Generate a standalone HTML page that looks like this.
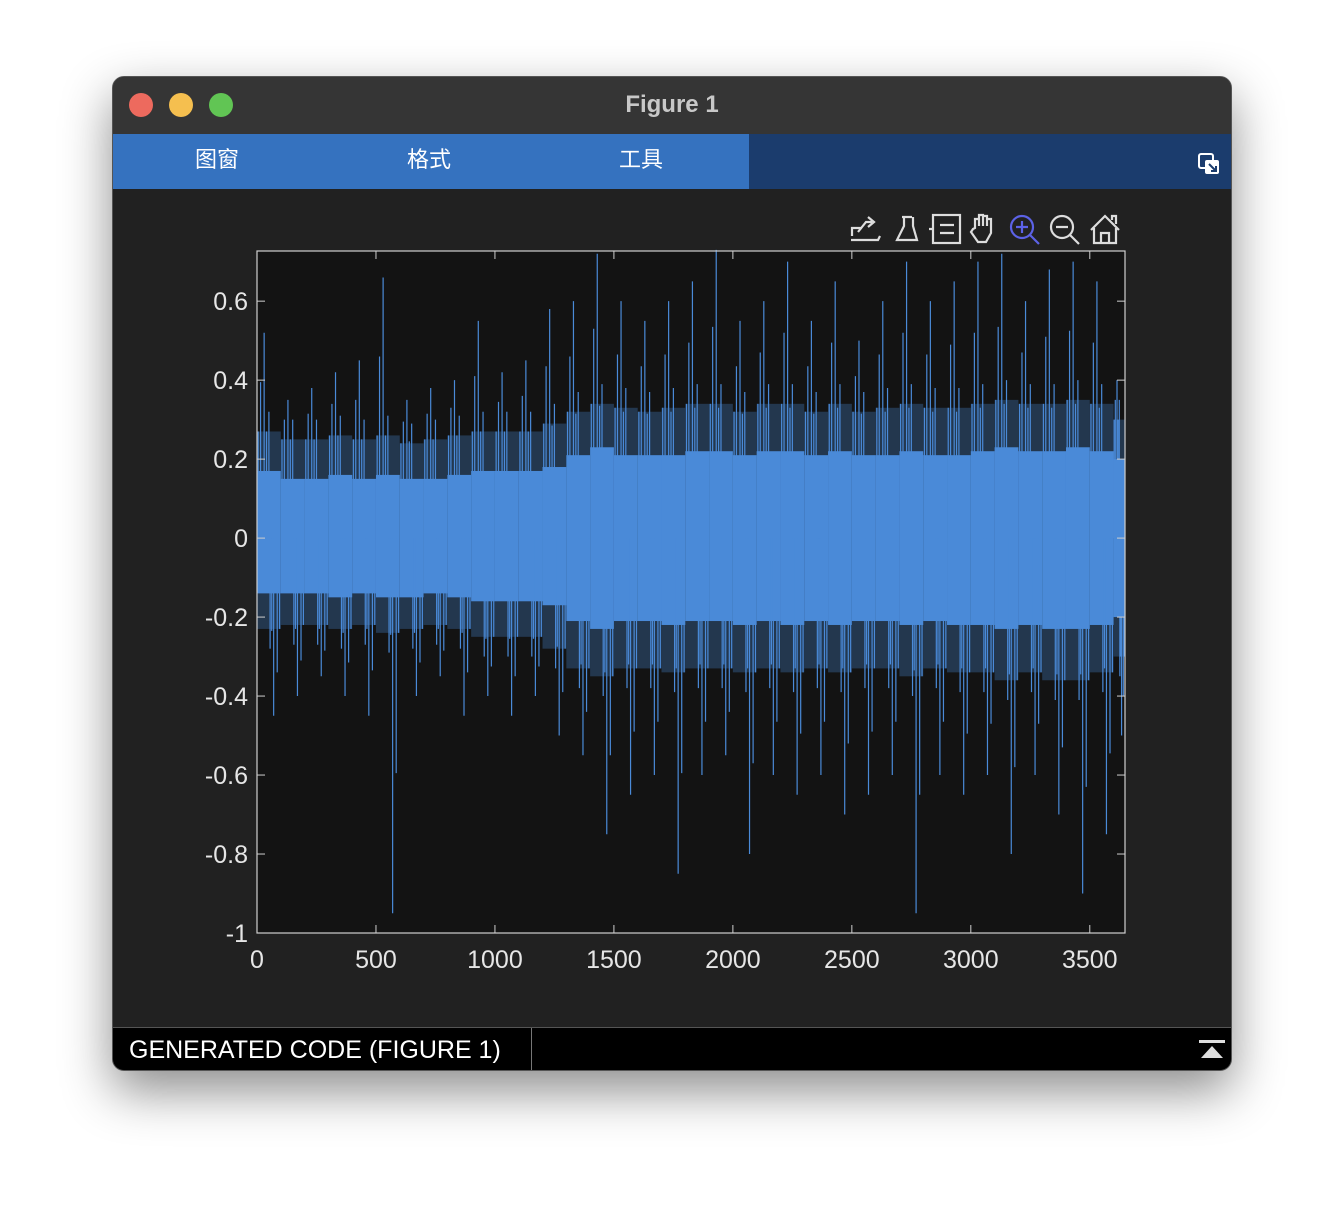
<!DOCTYPE html>
<html><head><meta charset="utf-8">
<style>
html,body{margin:0;padding:0;background:#fff;width:1344px;height:1220px;overflow:hidden;font-family:"Liberation Sans","Noto Sans CJK SC",sans-serif}
#win{position:absolute;left:112px;top:76px;width:1120px;height:995px;border-radius:12px;background:#212121;overflow:hidden;box-shadow:0 20px 50px rgba(0,0,0,0.45);border:1px solid #555;box-sizing:border-box}
#title{position:absolute;left:0;top:0;width:100%;height:57px;background:#353535;color:#c8c8c8;font-weight:bold;font-size:24px;text-align:center;line-height:55px}
.dot{position:absolute;top:16px;width:24px;height:24px;border-radius:50%}
#menu{position:absolute;left:0;top:57px;width:100%;height:55px;background:#1b3c6d}
#menuL{position:absolute;left:0;top:0;width:636px;height:55px;background:#3572bf}
.mi{position:absolute;top:0;line-height:52px;color:#fff;font-size:22px}
#status{position:absolute;left:0;top:950px;width:100%;height:45px;background:#000;border-top:1px solid #555}
#status span{position:absolute;left:16px;top:8px;color:#fff;font-size:25px}
</style></head><body>
<div id="win">
 <div id="title">Figure 1
  <div class="dot" style="left:16px;background:#ed6a5e"></div>
  <div class="dot" style="left:56px;background:#f5bf4f"></div>
  <div class="dot" style="left:96px;background:#61c554"></div>
 </div>
 <div id="menu">
  <div id="menuL">
   <div class="mi" style="left:82px">图窗</div>
   <div class="mi" style="left:294px">格式</div>
   <div class="mi" style="left:506px">工具</div>
  </div>
  <svg style="position:absolute;left:1084px;top:18px" width="24" height="24"><rect x="2" y="2" width="14" height="14" rx="2" fill="none" stroke="#fff" stroke-width="2"/><rect x="8" y="8" width="14" height="14" rx="2" fill="#fff"/><path d="M12 12 L19 19 M19 14 L19 19 L14 19" stroke="#1b3c6d" stroke-width="2" fill="none"/></svg>
 </div>
 <div id="status"><span>GENERATED CODE (FIGURE 1)</span>
  <div style="position:absolute;left:418px;top:0;width:1px;height:45px;background:#777"></div>
  <svg style="position:absolute;left:1086px;top:12px" width="26" height="20"><rect x="0" y="0" width="26" height="3" fill="#ddd"/><path d="M2 18 L13 6 L24 18 Z" fill="#ddd"/></svg>
 </div>
</div>
<svg id="chart" style="position:absolute;left:0;top:0" width="1344" height="1220">
 <g fill="none" stroke="#ddd" stroke-width="2.2">
  <g><path d="M851 240 L878 240 L880 236 M852 236 L852 228 L862 228 M858 232 L866 222 L872 222 M868 217 L874 222 L868 227"/></g>
  <g><path d="M902 217 L912 217 M904 217 L904 226 L897 240 L917 240 L913 226 L913 217"/></g>
  <g><rect x="933" y="215" width="27" height="28"/><path d="M940 225 L954 225 M940 233 L954 233 M933 229 L929 229"/></g>
  <g><path d="M975 228 L975 219 L979 219 L979 226 L979 215 L983 215 L983 226 L983 216 L987 216 L987 226 L987 219 L991 219 L991 233 L986 242 L978 242 L971 232 L973 229 Z"/></g>
  <g stroke="#5c62e6"><circle cx="1022" cy="227" r="11"/><path d="M1030 235 L1039 244 M1016 227 L1028 227 M1022 221 L1022 233"/></g>
  <g><circle cx="1062" cy="227" r="11"/><path d="M1070 235 L1079 244 M1056 227 L1068 227"/></g>
  <g><path d="M1091 230 L1105 216 L1119 230 M1094 228 L1094 243 L1116 243 L1116 228 M1101 243 L1101 233 L1109 233 L1109 243 M1112 220 L1112 216 L1116 216 L1116 224"/></g>
 </g>
 <rect x="257" y="251" width="868" height="682" fill="#131313"/>
 <g id="series"></g>
 <rect x="257" y="251" width="868" height="682" fill="none" stroke="#cfcfcf" stroke-width="1.2"/>
 <g id="ticks"></g>
</svg>
<script>
const binSize = 100;
const nSamples = 3648;
const binMax = [0.52,0.35,0.38,0.42,0.45,0.66,0.35,0.38,0.4,0.55,0.42,0.45,0.58,0.6,0.72,0.6,0.55,0.6,0.65,0.73,0.55,0.6,0.7,0.55,0.65,0.5,0.6,0.7,0.6,0.65,0.7,0.72,0.6,0.68,0.7,0.65,0.4];
const binMin = [-0.45,-0.4,-0.35,-0.4,-0.45,-0.95,-0.4,-0.35,-0.45,-0.4,-0.45,-0.4,-0.5,-0.55,-0.75,-0.65,-0.6,-0.85,-0.6,-0.55,-0.8,-0.6,-0.65,-0.6,-0.7,-0.65,-0.6,-0.95,-0.6,-0.65,-0.6,-0.8,-0.6,-0.7,-0.9,-0.75,-0.5];
const envHi = [0.27,0.25,0.25,0.26,0.25,0.26,0.24,0.25,0.26,0.27,0.27,0.27,0.29,0.32,0.34,0.33,0.32,0.33,0.34,0.34,0.32,0.34,0.34,0.32,0.34,0.32,0.33,0.34,0.33,0.33,0.34,0.35,0.34,0.34,0.35,0.34,0.3];
const envLo = [-0.23,-0.22,-0.22,-0.23,-0.22,-0.24,-0.23,-0.22,-0.23,-0.25,-0.25,-0.25,-0.28,-0.33,-0.35,-0.33,-0.33,-0.34,-0.33,-0.33,-0.34,-0.33,-0.34,-0.33,-0.34,-0.33,-0.33,-0.35,-0.33,-0.34,-0.34,-0.36,-0.34,-0.36,-0.36,-0.34,-0.3];
const coreHi = [0.17,0.15,0.15,0.16,0.15,0.16,0.15,0.15,0.16,0.17,0.17,0.17,0.18,0.21,0.23,0.21,0.21,0.21,0.22,0.22,0.21,0.22,0.22,0.21,0.22,0.21,0.21,0.22,0.21,0.21,0.22,0.23,0.22,0.22,0.23,0.22,0.2];
const coreLo = [-0.14,-0.14,-0.14,-0.15,-0.14,-0.15,-0.15,-0.14,-0.15,-0.16,-0.16,-0.16,-0.17,-0.21,-0.23,-0.21,-0.21,-0.22,-0.21,-0.21,-0.22,-0.21,-0.22,-0.21,-0.22,-0.21,-0.21,-0.22,-0.21,-0.22,-0.22,-0.23,-0.22,-0.23,-0.23,-0.22,-0.2];
const xTicks = [0,500,1000,1500,2000,2500,3000,3500];
const yTicks = [-1,-0.8,-0.6,-0.4,-0.2,0,0.2,0.4,0.6];
const yTickLabels = ["-1","-0.8","-0.6","-0.4","-0.2","0","0.2","0.4","0.6"];

const X0=257,X1=1125,Y0=251,Y1=933, xMax=nSamples, yMin=-1, yMaxV=0.727;
const xs = v => X0 + (v/xMax)*(X1-X0);
const ys = v => Y1 - (v-yMin)/(yMaxV-yMin)*(Y1-Y0);
const NS="http://www.w3.org/2000/svg";
const g=document.getElementById('series');
function mk(tag,attrs,parent){const e=document.createElementNS(NS,tag);for(const k in attrs)e.setAttribute(k,attrs[k]);parent.appendChild(e);return e;}
const C="#4a8ad8";
for(let i=0;i<binMax.length;i++){
  const a=i*binSize, b=Math.min((i+1)*binSize,xMax);
  const xa=xs(a), w=xs(b)-xa;
  const env=mk('rect',{x:xa,y:ys(envHi[i]),width:w,height:ys(envLo[i])-ys(envHi[i]),fill:C,opacity:0.3},g);
  
  
  const core=mk('rect',{x:xa,y:ys(coreHi[i]),width:w,height:ys(coreLo[i])-ys(coreHi[i]),fill:C},g);
  
  
  const sp=[[0.3,binMax[i]],[0.7,binMin[i]],[0.15,(binMax[i]+envHi[i])/2],[0.85,(binMin[i]+envLo[i])/2],[0.5,envHi[i]+0.05],[0.55,envLo[i]-0.05],[0.05,envHi[i]],[0.95,envLo[i]],[0.4,(coreHi[i]+envHi[i])/2+0.05],[0.62,(coreLo[i]+envLo[i])/2-0.05]];
  sp.forEach(([f,v])=>{
    const x=xs(a+f*(b-a));
    const l=mk('line',{x1:x,x2:x,y1:ys(0),y2:ys(v),stroke:C,'stroke-width':1.2},g);
    
    
  });
}
const tg=document.getElementById('ticks');
xTicks.forEach(t=>{
  const x=xs(t);
  mk('line',{x1:x,x2:x,y1:Y1,y2:Y1-8,stroke:'#cfcfcf'},tg);
  mk('line',{x1:x,x2:x,y1:Y0,y2:Y0+8,stroke:'#cfcfcf'},tg);
  const tx=mk('text',{x:x,y:968,fill:'#e6e6e6','font-size':25,'text-anchor':'middle','font-family':'Liberation Sans, sans-serif'},tg);
  tx.textContent=t;
  
  
});
yTicks.forEach((t,i)=>{
  const y=ys(t);
  mk('line',{x1:X0,x2:X0+8,y1:y,y2:y,stroke:'#cfcfcf'},tg);
  mk('line',{x1:X1,x2:X1-8,y1:y,y2:y,stroke:'#cfcfcf'},tg);
  const tx=mk('text',{x:248,y:y+9,fill:'#e6e6e6','font-size':25,'text-anchor':'end','font-family':'Liberation Sans, sans-serif'},tg);
  tx.textContent=yTickLabels[i];
  
  
});
</script>
</body></html>
